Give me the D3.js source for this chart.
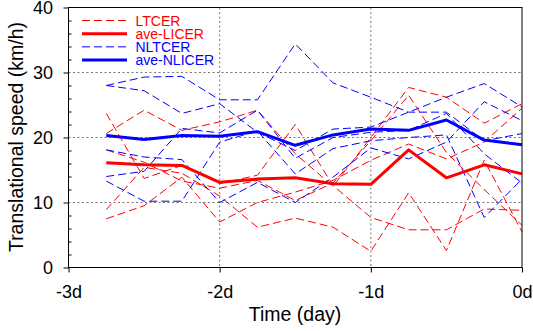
<!DOCTYPE html>
<html><head><meta charset="utf-8">
<script src="https://cdn.jsdelivr.net/npm/d3@7"></script>
<style>body{margin:0;background:#fff}svg{display:block}text{font-family:"Liberation Sans",Arial,Helvetica,sans-serif}</style>
</head><body><svg id="c" width="533" height="331"></svg>
<script>
const days = [-2.75,-2.5,-2.25,-2,-1.75,-1.5,-1.25,-1,-0.75,-0.5,-0.25,0];
const xTicks = [-3,-2,-1,0];
const xTickLabels = ["-3d","-2d","-1d","0d"];
const yTicks = [0,10,20,30,40];
const legendLabels = ["LTCER","ave-LICER","NLTCER","ave-NLICER"];
const ltcer1 = [20.6,24.2,21.1,22.4,24.2,17.5,12.5,20.0,27.7,26.2,22.2,25.2];
const ltcer2 = [23.7,13.7,15.7,12.9,14.2,22.0,12.6,7.7,5.8,5.8,9.0,8.8];
const ltcer3 = [7.5,9.5,13.9,7.0,10.0,11.6,13.4,16.5,19.0,16.7,19.3,24.5];
const ltcer4 = [8.9,15.4,14.5,11.0,6.2,7.6,6.2,2.5,11.5,2.6,16.5,5.5];
const ltcer5 = [18.1,16.2,13.3,12.2,13.4,10.3,13.0,19.5,26.5,17.7,12.0,6.5];
const aveLICER = [16.1,15.8,15.7,13.1,13.6,13.8,12.9,12.8,18.1,13.8,15.8,14.4];
const nltcer1 = [28.0,29.3,29.4,25.8,25.8,34.4,28.4,26.2,23.9,23.9,19.5,20.6];
const nltcer2 = [28.0,27.2,23.7,25.2,20.8,18.0,21.3,21.6,23.9,26.2,28.3,24.7];
const nltcer3 = [18.1,17.0,16.6,10.0,13.1,10.0,13.9,18.4,16.7,19.3,25.5,22.6];
const nltcer4 = [14.0,14.8,21.4,20.7,24.2,16.8,20.0,20.8,21.1,23.7,17.5,13.0];
const nltcer5 = [13.3,10.2,10.2,19.3,21.0,14.4,18.3,19.5,20.0,20.4,7.7,13.6];
const aveNLICER = [20.3,19.7,20.3,20.2,20.9,18.8,20.4,21.3,21.1,22.7,19.6,18.9];

const svg = d3.select("#c");
const L=68.5, R=522, T=7.5, B=267.5;
const x = d3.scaleLinear().domain([-3,0]).range([L,R]);
const y = d3.scaleLinear().domain([0,40]).range([B,T]);
const RED="#ff0000", BLUE="#0000ff";

// grid
const g = svg.append("g");
g.selectAll(".gx").data([-2,-1]).enter().append("line")
 .attr("x1",d=>x(d)).attr("x2",d=>x(d)).attr("y1",T).attr("y2",B)
 .attr("stroke","#777").attr("stroke-width",1).attr("stroke-dasharray","2,2.5");
g.selectAll(".gy").data([10,20,30]).enter().append("line")
 .attr("y1",d=>y(d)).attr("y2",d=>y(d)).attr("x1",L).attr("x2",R)
 .attr("stroke","#777").attr("stroke-width",1).attr("stroke-dasharray","2,2.5");

const line = d3.line().x((d,i)=>x(days[i])).y(d=>y(d));
function draw(data,color,w,dash){
  svg.append("path").datum(data).attr("d",line).attr("fill","none")
   .attr("stroke",color).attr("stroke-width",w)
   .attr("stroke-dasharray",dash||null).attr("stroke-linejoin","round");
}
[ltcer1,ltcer2,ltcer3,ltcer4,ltcer5].forEach(s=>draw(s,RED,1,"8,4"));
[nltcer1,nltcer2,nltcer3,nltcer4,nltcer5].forEach(s=>draw(s,BLUE,1,"8,4"));
draw(aveLICER,RED,3);
draw(aveNLICER,BLUE,3);

// axes
const xAxis = d3.axisBottom(x).tickValues(xTicks).tickFormat((d,i)=>xTickLabels[i]).tickSize(5).tickPadding(13);
const xa = svg.append("g").attr("transform",`translate(0,${B})`).call(xAxis);
xa.select(".domain").remove();
xa.selectAll("text").attr("font-size",18).attr("fill","#000").attr("font-family","Liberation Sans, Arial");
const yAxis = d3.axisLeft(y).tickValues(yTicks).tickSize(5).tickPadding(10.5);
const ya = svg.append("g").attr("transform",`translate(${L},0)`).call(yAxis);
ya.select(".domain").remove();
ya.selectAll("text").attr("font-size",18).attr("fill","#000").attr("font-family","Liberation Sans, Arial");
// minor ticks (inward)
const minor = d3.range(0,41,2).filter(v=>v%10!==0);
const ym = d3.axisRight(y).tickValues(minor).tickSize(3).tickFormat("");
const yma = svg.append("g").attr("transform",`translate(${L},0)`).call(ym);
yma.select(".domain").remove();

// frame
svg.append("rect").attr("x",L).attr("y",T).attr("width",R-L).attr("height",B-T)
 .attr("fill","none").attr("stroke","#000").attr("stroke-width",1);

// legend
const leg = [{c:RED,w:1,d:"8,4"},{c:RED,w:3,d:null},{c:BLUE,w:1,d:"8,4"},{c:BLUE,w:3,d:null}];
const ly = d3.scaleLinear().domain([0,3]).range([20.5,60]);
leg.forEach((o,i)=>{
  svg.append("line").attr("x1",82).attr("x2",127).attr("y1",ly(i)).attr("y2",ly(i))
   .attr("stroke",o.c).attr("stroke-width",o.w).attr("stroke-dasharray",o.d);
  svg.append("text").attr("x",135.5).attr("y",ly(i)).attr("dy","0.36em")
   .attr("font-size",14).attr("fill",o.c).text(legendLabels[i]);
});

// titles
svg.append("text").attr("transform","translate(23,137) rotate(-90)").attr("text-anchor","middle")
 .attr("font-size",19.5).attr("fill","#000").text("Translational speed (km/h)");
svg.append("text").attr("x",295).attr("y",321).attr("text-anchor","middle")
 .attr("font-size",19.5).attr("fill","#000").text("Time (day)");
</script></body></html>
